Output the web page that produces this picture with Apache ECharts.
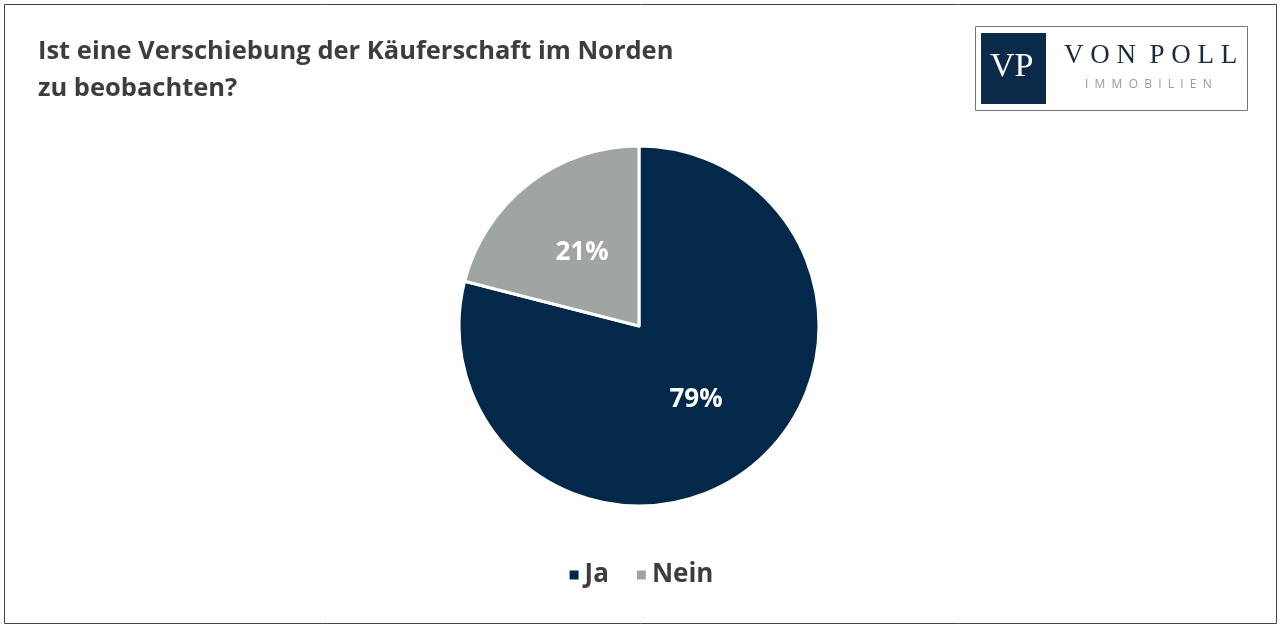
<!DOCTYPE html>
<html>
<head>
<meta charset="utf-8">
<script src="https://cdn.jsdelivr.net/npm/echarts@6/dist/echarts.min.js"></script>
<style>
  html, body { margin: 0; padding: 0; background: #fff; }
  #chart { width: 1281px; height: 629px; }
</style>
</head>
<body>
<div id="chart"></div>
<script>
var categories = ['Ja', 'Nein'];
var shares = [79, 21];
var sliceColors = ['#03284a', '#a0a5a4'];

var chart = echarts.init(document.getElementById('chart'));

var option = {
  animation: false,
  backgroundColor: '#fff',
  title: {
    text: 'Ist eine Verschiebung der Käuferschaft im Norden\nzu beobachten?',
    left: 33,
    top: 28,
    textStyle: {
      fontFamily: 'Open Sans',
      fontWeight: 'bold',
      fontSize: 25.5,
      lineHeight: 37,
      color: '#3d3d3d'
    }
  },
  legend: {
    data: categories,
    bottom: 36,
    left: 'center',
    icon: 'rect',
    itemWidth: 11,
    itemHeight: 11,
    itemGap: 26,
    textStyle: {
      fontFamily: 'Open Sans',
      fontWeight: 'bold',
      fontSize: 26,
      color: '#3d3d3d'
    }
  },
  graphic: [
    // outer frame
    { type: 'rect', shape: { x: 4.5, y: 4.5, width: 1272, height: 619 },
      style: { fill: null, stroke: '#444', lineWidth: 1 } },
    // logo box
    { type: 'rect', shape: { x: 975.5, y: 26.5, width: 272, height: 84 },
      style: { fill: '#fff', stroke: '#777', lineWidth: 1 } },
    { type: 'rect', shape: { x: 981, y: 33, width: 65, height: 71 },
      style: { fill: '#0b2a4a' } },
    { type: 'text', left: 990, top: 50,
      style: { text: 'VP', fill: '#fff', font: '34px "Liberation Serif"' } },
    { type: 'text', left: 1064, top: 42,
      style: { text: 'V O N  P O L L', fill: '#1a2a3a', font: '27px "Liberation Serif"' } },
    { type: 'text', left: 1085, top: 79,
      style: { text: 'I  M  M  O  B  I  L  I  E  N', fill: '#9a9a9a', font: '12px "Open Sans"' } }
  ],
  series: [{
    type: 'pie',
    center: [639, 326],
    radius: ['0%', 180],
    startAngle: 90,
    clockwise: true,
    itemStyle: {
      borderColor: '#fff',
      borderWidth: 3
    },
    label: {
      show: true,
      position: 'inside',
      formatter: '{c}%',
      color: '#fff',
      fontFamily: 'Open Sans',
      fontWeight: 'bold',
      fontSize: 26
    },
    labelLine: { show: false },
    data: categories.map(function (name, i) {
      return { name: name, value: shares[i], itemStyle: { color: sliceColors[i] } };
    })
  }]
};

chart.setOption(option);
</script>
</body>
</html>
